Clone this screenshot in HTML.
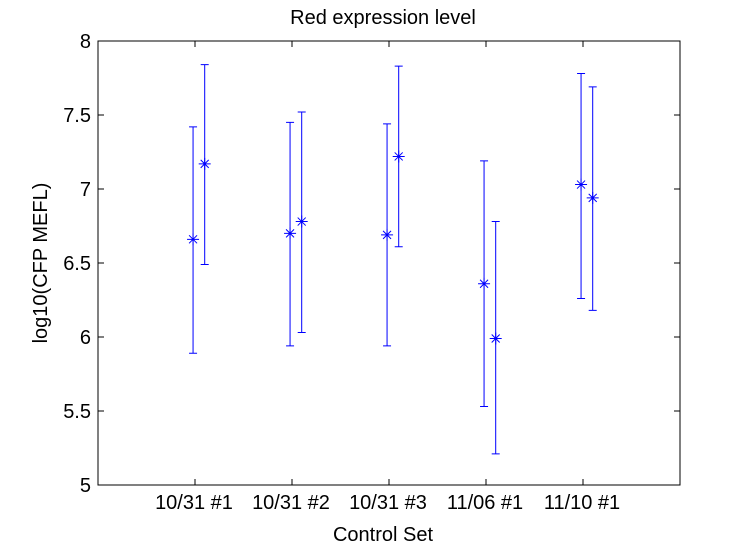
<!DOCTYPE html>
<html><head><meta charset="utf-8"><style>
body{margin:0;background:#fff;width:750px;height:549px;overflow:hidden}
text{font-family:"Liberation Sans",sans-serif;fill:#000}
</style></head><body>
<svg id="chart" width="750" height="549">
<rect x="98" y="41" width="582" height="444" fill="#fff" stroke="#000"/>
<text x="383" y="24" font-size="20" text-anchor="middle">Red expression level</text>
<text x="383" y="541" font-size="20" text-anchor="middle">Control Set</text>
<text transform="translate(47,263) rotate(-90)" font-size="20" text-anchor="middle">log10(CFP MEFL)</text>
<g id="g"></g>
</svg>
<script>
const categories=["10/31 #1","10/31 #2","10/31 #3","11/06 #1","11/10 #1"];
const leftMean=[6.66,6.70,6.69,6.36,7.03];
const leftLo=[5.89,5.94,5.94,5.53,6.26];
const leftHi=[7.42,7.45,7.44,7.19,7.78];
const rightMean=[7.17,6.78,7.22,5.99,6.94];
const rightLo=[6.49,6.03,6.61,5.21,6.18];
const rightHi=[7.84,7.52,7.83,6.78,7.69];
const yTicks=[5,5.5,6,6.5,7,7.5,8];
const yTickLabels=["5","5.5","6","6.5","7","7.5","8"];
const X=v=>98+v*97;
const Y=v=>485-(v-5)*148;
const g=document.getElementById('g');
const NS="http://www.w3.org/2000/svg";
function mk(t,a){const e=document.createElementNS(NS,t);for(const k in a)e.setAttribute(k,a[k]);g.appendChild(e);return e;}
yTicks.forEach((t,i)=>{
  let l=mk('line',{x1:98,x2:104,y1:Y(t),y2:Y(t),stroke:'#000'});
  
  
  let l2=mk('line',{x1:674,x2:680,y1:Y(t),y2:Y(t),stroke:'#000'});
  
  
  let tx=mk('text',{x:91,y:Y(t)+7,'font-size':20,'text-anchor':'end'});tx.textContent=yTickLabels[i];
  
  
});
categories.forEach((c,i)=>{
  const k=i+1;
  let t1=mk('line',{x1:X(k),x2:X(k),y1:485,y2:479,stroke:'#000'});
  
  
  let t2=mk('line',{x1:X(k),x2:X(k),y1:41,y2:47,stroke:'#000'});
  
  
  let tx=mk('text',{x:X(k)-1,y:509,'font-size':20,'text-anchor':'middle'});tx.textContent=c;
  
  
  [[-0.02,leftMean,leftLo,leftHi],[0.1,rightMean,rightLo,rightHi]].forEach(([off,m,lo,hi])=>{
    const x=X(k+off);
    const p=`M${x},${Y(lo[i])}V${Y(hi[i])}M${x-4},${Y(lo[i])}h8M${x-4},${Y(hi[i])}h8`;
    let e=mk('path',{d:p,stroke:'#0000ff','stroke-width':1,fill:'none'});
    
    
    const y=Y(m[i]);
    let s=mk('path',{d:`M${x-6},${y}h12M${x},${y-6}v12M${x-4},${y-4}l8,8M${x-4},${y+4}l8,-8`,stroke:'#0000ff','stroke-width':1});
    
    
  });
});
</script>
</body></html>
